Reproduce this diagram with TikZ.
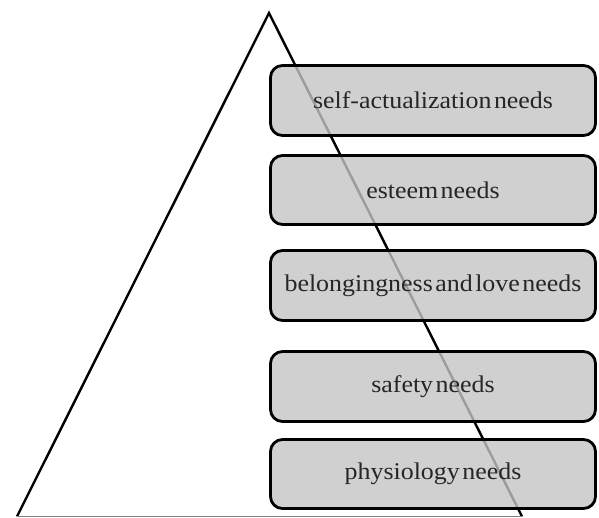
\documentclass[tikz,border=0pt]{standalone}
\usepackage{fontspec}
\setmainfont[FakeStretch=1.08]{Liberation Serif}
\definecolor{boxgray}{HTML}{C4C4C4}
\newcommand\needfont{\fontsize{24}{28}\selectfont\spaceskip=2.5pt\relax}
\tikzset{
  needbox/.style={draw=black, line width=2.8pt, rounded corners=12pt, fill=boxgray, fill opacity=0.8, text opacity=1,
    minimum width=325pt, inner sep=0pt, font=\needfont, text=black!85},
  side/.style={draw=black, line width=2.4pt, line join=miter}
}
\begin{document}
\begin{tikzpicture}[x=1pt,y=-1pt]
\useasboundingbox (0,0) rectangle (599,517);
\coordinate (apex) at (269,13);
\coordinate (bl) at (17,516.5);
\coordinate (br) at (522,516.5);
\draw[side] (bl) -- (apex) -- (br);
\draw[gray, line width=1.4pt] (bl) -- (br);
\node[needbox, minimum height=70pt] (n1) at (433,100.5) {self-actualization needs};
\node[needbox, minimum height=69pt] (n2) at (433,190) {esteem needs};
\node[needbox, minimum height=70pt] (n3) at (433,285.5) {belongingness and love needs};
\node[needbox, minimum height=70pt] (n4) at (433,386.5) {safety needs};
\node[needbox, minimum height=69pt] (n5) at (433,474) {physiology needs};
\end{tikzpicture}
\end{document}
